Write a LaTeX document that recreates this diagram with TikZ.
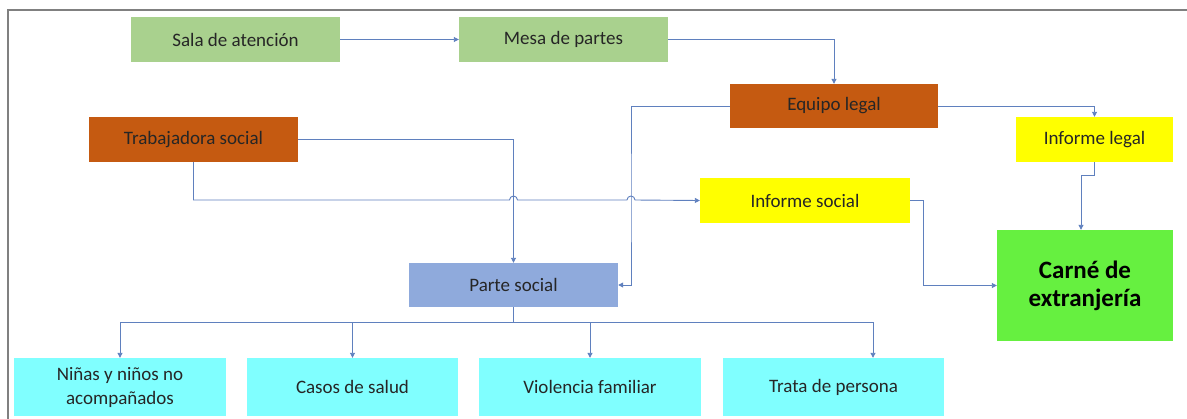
\documentclass[tikz,border=0pt]{standalone}
\usepackage{fontspec}
\setmainfont{Carlito}
\usetikzlibrary{arrows.meta,calc}

\definecolor{salagreen}{RGB}{169,209,142}
\definecolor{legalorange}{RGB}{197,90,17}
\definecolor{informeyellow}{RGB}{255,255,0}
\definecolor{carnegreen}{RGB}{102,240,64}
\definecolor{parteblue}{RGB}{143,170,220}
\definecolor{casocyan}{RGB}{128,255,255}
\definecolor{linkblue}{RGB}{95,128,190}

\tikzset{
  box/.style={inner sep=2pt, align=center, text=black!85,
    font=\fontsize{19}{24}\selectfont},
  conn/.style={draw=linkblue, line width=0.9pt,
    -{Triangle[length=5pt,width=5pt]}},
  plain/.style={draw=linkblue, line width=0.9pt}
}

\begin{document}
\begin{tikzpicture}[x=1pt,y=-1pt]

\useasboundingbox (0,0) rectangle (1187,418);
\draw[gray, line width=1.3pt](8,440)--(8,10)--(1200,10); %% frame

%% top row
\node[box, fill=salagreen, minimum width=209pt, minimum height=45pt]
(sala) at (235.5,39.5) {Sala de atención};
\node[box, fill=salagreen, minimum width=209pt, minimum height=45pt]
(mesa) at (563.5,39.5) {Mesa de partes};
\node[box, fill=legalorange, minimum width=208pt, minimum height=44pt]
(equipo) at (834,106) {Equipo legal};
\node[box, fill=legalorange, minimum width=209pt, minimum height=45pt]
(trab) at (193.5,139.5) {Trabajadora social};

%% informes
\node[box, fill=informeyellow, minimum width=157pt, minimum height=45pt]
(infleg) at (1094.5,139.5) {Informe legal};
\node[box, fill=informeyellow, minimum width=210pt, minimum height=45pt]
(infsoc) at (805,200.5) {Informe social};
\node[box, fill=carnegreen, minimum width=176pt, minimum height=111pt,
  font=\fontsize{25}{28}\selectfont\bfseries, text=black]
(carne) at (1085,285.5) {Carné de\\extranjería};

\node[box, fill=parteblue, minimum width=209pt, minimum height=44pt]
(parte) at (513.5,285) {Parte social};

%% casos
\node[box, fill=casocyan, minimum width=212pt, minimum height=58pt]
(ninas) at (120,387) {Niñas y niños no\\acompañados};
\node[box, fill=casocyan, minimum width=211pt, minimum height=58pt]
(salud) at (352.5,387) {Casos de salud};
\node[box, fill=casocyan, minimum width=222pt, minimum height=58pt]
(violencia) at (590,387) {Violencia familiar};
\node[box, fill=casocyan, minimum width=221pt, minimum height=58pt]
(trata) at (833.5,387) {Trata de persona};

\coordinate (jv) at (631,200);
\coordinate (bus) at (513.5,322);
\coordinate (jh) at (parte.north |- jv);

\draw[conn](sala)--(mesa);
\draw[conn](mesa.east)-|(equipo.north);
\draw[conn](equipo.east)-|(infleg.north);
\draw[conn](equipo.west)-|(jv)|-(parte.east);
\draw[conn](trab.east)-|(parte.north);
\draw[conn](trab.south)|-([xshift=-4pt]jh)
  arc[start angle=180, end angle=0, radius=4pt]
  --([xshift=-4pt]jv)
  arc[start angle=180, end angle=0, radius=4pt]
  --(infsoc.west);
\draw[conn](infleg.south)--++(0,13)-|([xshift=-4pt]carne.north);
\draw[conn](infsoc.east)--++(13,0)|-(carne.west);

\draw[plain](parte.south)--(bus);
\draw[conn](bus)-|(ninas.north);
\draw[conn](bus)-|(salud.north);
\draw[conn](bus)-|(violencia.north);
\draw[conn](bus)-|([xshift=39.5pt]trata.north);

\end{tikzpicture}
\end{document}
